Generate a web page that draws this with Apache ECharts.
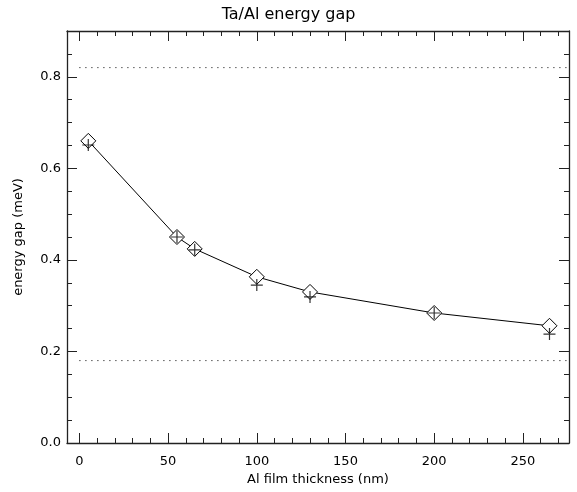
<!DOCTYPE html>
<html>
<head>
<meta charset="utf-8">
<script src="https://cdn.jsdelivr.net/npm/echarts@6/dist/echarts.min.js"></script>
<style>html,body{margin:0;padding:0;background:#fff}#c{width:577px;height:492px}</style>
</head>
<body>
<div id="c"></div>
<script>
var thickness = [5, 55, 65, 100, 130, 200, 265];
var gapDiamond = [0.660, 0.450, 0.424, 0.363, 0.330, 0.284, 0.256];
var gapPlus = [0.651, 0.450, 0.422, 0.345, 0.319, 0.284, 0.238];
var refHigh = 0.82;
var refLow = 0.18;
var xTicks = [0, 50, 100, 150, 200, 250];
var xMinorTicks = [10, 20, 30, 40, 60, 70, 80, 90, 110, 120, 130, 140, 160, 170, 180, 190, 210, 220, 230, 240, 260, 270];
var yTicks = [0, 0.2, 0.4, 0.6, 0.8];
var yMinorTicks = [0.05, 0.1, 0.15, 0.25, 0.3, 0.35, 0.45, 0.5, 0.55, 0.65, 0.7, 0.75, 0.85];
var xMin = -7, xMax = 276, yMin = 0, yMax = 0.9;

var FONT = 'DejaVu Sans';
var INK = '#000';
var FRAME = '#222';

function pairs(xs, ys) { return xs.map(function (x, i) { return [x, ys[i]]; }); }

function xAx(pos, ticks, len, labels, line) {
  return {
    type: 'value', position: pos, min: xMin, max: xMax, gridIndex: 0,
    axisLine: { show: line, onZero: false, lineStyle: { color: FRAME, width: 1.3 } },
    axisTick: { show: true, inside: true, length: len, customValues: ticks, lineStyle: { color: FRAME } },
    axisLabel: { show: labels, customValues: ticks, color: INK, fontFamily: FONT, fontSize: 13, margin: 12 },
    splitLine: { show: false }
  };
}
function yAx(pos, ticks, len, labels, line) {
  return {
    type: 'value', position: pos, min: yMin, max: yMax, gridIndex: 0,
    axisLine: { show: line, onZero: false, lineStyle: { color: FRAME, width: 1.3 } },
    axisTick: { show: true, inside: true, length: len, customValues: ticks, lineStyle: { color: FRAME } },
    axisLabel: { show: labels, customValues: ticks, color: INK, fontFamily: FONT, fontSize: 13, margin: 6,
      formatter: function (v) { return v.toFixed(1); } },
    splitLine: { show: false }
  };
}

var xAxes = [
  xAx('bottom', xTicks, 10, true, true),
  xAx('bottom', xMinorTicks, 5, false, false),
  xAx('top', xTicks, 10, false, true),
  xAx('top', xMinorTicks, 5, false, false)
];
xAxes[0].name = 'Al film thickness (nm)';
xAxes[0].nameLocation = 'middle';
xAxes[0].nameGap = 30;
xAxes[0].nameTextStyle = { color: INK, fontFamily: FONT, fontSize: 13 };

var yAxes = [
  yAx('left', yTicks, 10, true, true),
  yAx('left', yMinorTicks, 5, false, false),
  yAx('right', yTicks, 10, false, true),
  yAx('right', yMinorTicks, 5, false, false)
];
yAxes[0].name = 'energy gap (meV)';
yAxes[0].nameLocation = 'middle';
yAxes[0].nameGap = 42;
yAxes[0].nameTextStyle = { color: INK, fontFamily: FONT, fontSize: 13 };

var plusPath = 'path://M4.5,0h1v10h-1zM0,4.5h10v1h-10z';

var option = {
  backgroundColor: '#fff',
  animation: false,
  title: { text: 'Ta/Al energy gap', left: 'center', top: 2,
    textStyle: { color: INK, fontFamily: FONT, fontSize: 16, fontWeight: 'normal' } },
  grid: { left: 67, right: 8, top: 31, bottom: 49, containLabel: false },
  xAxis: xAxes,
  yAxis: yAxes,
  series: [
    { type: 'line', data: [[0, refHigh], [xMax, refHigh]], symbol: 'none', silent: true,
      lineStyle: { color: INK, width: 1, type: [1, 5] } },
    { type: 'line', data: [[0, refLow], [xMax, refLow]], symbol: 'none', silent: true,
      lineStyle: { color: INK, width: 1, type: [1, 5] } },
    { type: 'line', data: pairs(thickness, gapDiamond), symbol: 'diamond', symbolSize: 15,
      itemStyle: { color: '#fff', borderColor: INK, borderWidth: 1 },
      lineStyle: { color: INK, width: 1 }, z: 3 },
    { type: 'scatter', data: pairs(thickness, gapPlus), symbol: plusPath, symbolSize: 12,
      itemStyle: { color: INK }, z: 4 }
  ]
};
echarts.init(document.getElementById('c')).setOption(option);
</script>
</body>
</html>
